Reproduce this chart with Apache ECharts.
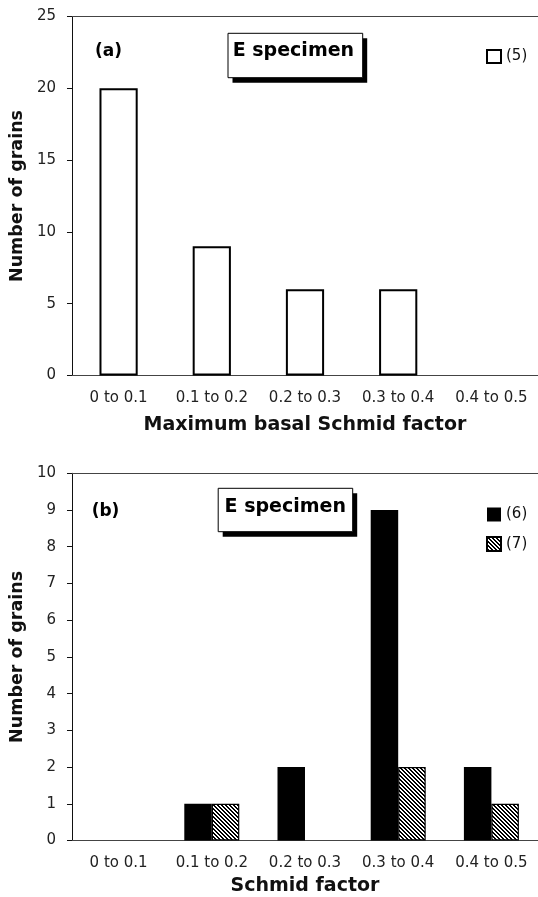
<!DOCTYPE html>
<html><head><meta charset="utf-8">
<script src="https://cdn.jsdelivr.net/npm/echarts@6/dist/echarts.min.js"></script>
<style>html,body{margin:0;padding:0;background:#fff}#c{width:538px;height:897px}</style>
</head><body><div id="c"></div>
<script>
// ---- data ----
const categories = ['0 to 0.1', '0.1 to 0.2', '0.2 to 0.3', '0.3 to 0.4', '0.4 to 0.5'];
const grainsA5 = [20, 9, 6, 6, 0];   // (5) maximum basal Schmid factor
const grainsB6 = [0, 1, 2, 9, 2];    // (6)
const grainsB7 = [0, 1, 0, 2, 1];    // (7)
const seriesNamesA = ['(5)'];
const seriesNamesB = ['(6)', '(7)'];
const yRangeA = [0, 25, 5];
const yRangeB = [0, 10, 1];
const titleA = 'Maximum basal Schmid factor';
const titleB = 'Schmid factor';
const yTitle = 'Number of grains';

// ---- styles ----
const F = '"DejaVu Sans", sans-serif';
function hatch() {
  const n = 8;
  const c = document.createElement('canvas'); c.width = c.height = n;
  const g = c.getContext('2d');
  const img = g.createImageData(n, n);
  for (let y = 0; y < n; y++) for (let x = 0; x < n; x++) {
    const m = ((x - y) % 4 + 4) % 4;
    const v = (m === 0 || m === 1) ? 0 : 255;
    const i = (y * n + x) * 4;
    img.data[i] = img.data[i + 1] = img.data[i + 2] = v; img.data[i + 3] = 255;
  }
  g.putImageData(img, 0, 0);
  return c;
}
const hatchPattern = { image: hatch(), repeat: 'repeat' };
// zero-height bars carry no outline (as in the original figure)
function noZeroOutline(arr) {
  return arr.map(v => v === 0 ? { value: v, itemStyle: { borderWidth: 0 } } : v);
}

function xAx(grid, name, gap) {
  return {
    type: 'category', gridIndex: grid, data: categories,
    axisLine: { lineStyle: { color: '#444', width: 1 } },
    axisTick: { length: 6, lineStyle: { color: '#222' } },
    axisLabel: { interval: 0, margin: 15, fontFamily: F, fontSize: 15, color: '#222' },
    name: name, nameLocation: 'middle', nameGap: gap,
    nameTextStyle: { fontFamily: F, fontWeight: 'bold', fontSize: 19, color: '#111' }
  };
}
function topAx(grid) {
  return {
    type: 'category', gridIndex: grid, position: 'top', data: categories,
    axisLine: { lineStyle: { color: '#444', width: 1 } },
    axisTick: { show: false }, axisLabel: { show: false }
  };
}
function yAx(grid, r) {
  return {
    type: 'value', gridIndex: grid, min: r[0], max: r[1], interval: r[2],
    splitLine: { show: false },
    axisLine: { show: true, lineStyle: { color: '#111', width: 1 } },
    axisTick: { show: true, length: 5, lineStyle: { color: '#111' } },
    axisLabel: { margin: 16, fontFamily: F, fontSize: 15, color: '#222' },
    name: yTitle, nameLocation: 'middle', nameGap: 39,
    nameTextStyle: { fontFamily: F, fontWeight: 'bold', fontSize: 17.5, color: '#111' }
  };
}
function box(x, y, w, h, tx, ty) {
  return [
    { type: 'rect', shape: { x: x + 4.5, y: y + 5, width: w, height: h }, style: { fill: '#000' } },
    { type: 'rect', shape: { x: x, y: y, width: w, height: h }, style: { fill: '#fff', stroke: '#000', lineWidth: 1 } },
    { type: 'text', x: tx, y: ty, style: { text: 'E specimen', font: 'bold 19px ' + F, fill: '#000', align: 'center', verticalAlign: 'middle' } }
  ];
}
function label(t, x, y) {
  return { type: 'text', x: x, y: y, style: { text: t, font: 'bold 17px ' + F, fill: '#000', align: 'center', verticalAlign: 'middle' } };
}

const chart = echarts.init(document.getElementById('c'), null, { renderer: 'canvas' });
chart.setOption({
  animation: false,
  backgroundColor: '#fff',
  grid: [
    { left: 68.5, top: 16.5, width: 472, height: 359 },
    { left: 66.2, top: 473.3, width: 473.5, height: 369.4 }
  ],
  xAxis: [xAx(0, titleA, 40), topAx(0), xAx(1, titleB, 36.5), topAx(1)],
  yAxis: [yAx(0, yRangeA), yAx(1, yRangeB)],
  legend: [
    { data: seriesNamesA, icon: 'rect', left: 481, top: 44, itemWidth: 14, itemHeight: 13, itemGap: 10,
      textStyle: { fontFamily: F, fontSize: 15, color: '#111', padding: [0, 0, 4, 0] } },
    { data: seriesNamesB, icon: 'rect', orient: 'vertical', left: 481, top: 502, itemWidth: 14, itemHeight: 14, itemGap: 14,
      textStyle: { fontFamily: F, fontSize: 15, color: '#111', padding: [0, 0, 4, 0] } }
  ],
  series: [
    { name: seriesNamesA[0], type: 'bar', xAxisIndex: 0, yAxisIndex: 0, data: noZeroOutline(grainsA5), barWidth: '41%',
      itemStyle: { color: '#fff', borderColor: '#000', borderWidth: 2 } },
    { name: seriesNamesB[0], type: 'bar', xAxisIndex: 2, yAxisIndex: 1, data: noZeroOutline(grainsB6),
      barGap: '0%', barCategoryGap: '41%', itemStyle: { color: '#000' } },
    { name: seriesNamesB[1], type: 'bar', xAxisIndex: 2, yAxisIndex: 1, data: noZeroOutline(grainsB7),
      barGap: '0%', barCategoryGap: '41%', itemStyle: { color: hatchPattern, borderColor: '#000', borderWidth: 1.2 } }
  ],
  graphic: [].concat(
    box(228, 33.3, 134.7, 44.4, 293.4, 51.5),
    box(218.2, 488.3, 134.5, 43.4, 285.3, 507),
    [label('(a)', 108.6, 52), label('(b)', 105.5, 511.7)]
  )
});
</script>
</body></html>
